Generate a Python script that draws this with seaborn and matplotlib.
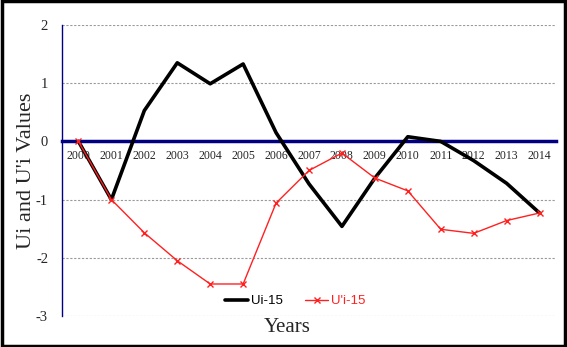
import numpy as np
import pandas as pd
import matplotlib
matplotlib.use("Agg")
import matplotlib.pyplot as plt
from matplotlib.patches import Rectangle
import seaborn as sns

years = ["2000", "2001", "2002", "2003", "2004", "2005", "2006", "2007",
         "2008", "2009", "2010", "2011", "2012", "2013", "2014"]
ui_15 = [0.0, -1.0, 0.53, 1.35, 0.99, 1.33, 0.15, -0.73, -1.46, -0.63,
         0.08, 0.0, -0.33, -0.72, -1.23]
uprime_15 = [0.0, -1.0, -1.57, -2.05, -2.45, -2.45, -1.06, -0.50, -0.20,
             -0.63, -0.85, -1.51, -1.58, -1.36, -1.23]
y_ticks = [-3, -2, -1, 0, 1, 2]

navy = "#000080"
red = "#ff2020"
serif = ["Liberation Serif", "DejaVu Serif"]
sans = ["Liberation Sans", "DejaVu Sans"]

sns.set_style("white")

df = pd.DataFrame({"pos": np.arange(len(years)), "Ui-15": ui_15, "U'i-15": uprime_15})

fig = plt.figure(figsize=(5.67, 3.47), dpi=100)
ax = fig.add_axes([62 / 567, 1 - 316 / 347, (556 - 62) / 567, (316 - 25) / 347])

sns.lineplot(data=df, x="pos", y="Ui-15", ax=ax, color="black", linewidth=2.6,
             label="Ui-15", zorder=3)
sns.lineplot(data=df, x="pos", y="U'i-15", ax=ax, color=red, linewidth=1.0,
             marker="x", markersize=5, markeredgewidth=1.0, markeredgecolor=red,
             markerfacecolor=red, label="U'i-15", zorder=4)

ax.set_xlim(-0.5, len(years) - 0.5)
ax.set_ylim(-3, 2)

# dashed horizontal gridlines (the zero line is the category axis itself)
for v in y_ticks:
    if v != 0:
        ax.axhline(v, color="#9a9a9a", linestyle=(0, (2, 1.5)), linewidth=0.8, zorder=1)

ax.set_yticks(y_ticks)
ax.set_yticklabels([str(v) for v in y_ticks], fontfamily=serif, fontsize=10.5)
ax.tick_params(axis="y", direction="out", length=4, width=1, color=navy, pad=6)

# category axis along y = 0 with tick marks between categories
ax.spines["bottom"].set_position(("data", 0))
ax.spines["bottom"].set_color(navy)
ax.spines["bottom"].set_linewidth(2.5)
ax.spines["bottom"].set_zorder(2)
ax.spines["left"].set_color(navy)
ax.spines["left"].set_linewidth(1.0)
ax.spines["top"].set_visible(False)
ax.spines["right"].set_visible(False)

ax.set_xticks(np.arange(-0.5, len(years), 1.0))
ax.set_xticklabels([])
ax.tick_params(axis="x", which="major", direction="out", length=3, width=2, color=navy)
ax.set_xticks(np.arange(len(years)), minor=True)
ax.set_xticklabels(years, minor=True, fontfamily=serif, fontsize=8.5)
ax.tick_params(axis="x", which="minor", length=0, pad=6)

ax.set_xlabel("")
ax.set_ylabel("")
fig.text(27 / 567, 1 - 171 / 347, "Ui and U'i Values", fontfamily=serif, fontsize=16,
         rotation=90, ha="center", va="center")
fig.text(287 / 567, 1 - 328 / 347, "Years", fontfamily=serif, fontsize=15,
         ha="center", va="center")

leg = ax.legend(loc="center", ncol=2, frameon=False, prop={"family": sans, "size": 9.5},
                handlelength=1.75, columnspacing=1.7, handletextpad=0.2)
leg.set_bbox_to_anchor((295 / 567, 1 - 301 / 347), transform=fig.transFigure)
for txt, col in zip(leg.get_texts(), ["black", red]):
    txt.set_color(col)

fig.patches.append(Rectangle((0.003, 0.004), 0.994, 0.992, transform=fig.transFigure,
                             fill=False, edgecolor="black", linewidth=2.5))

fig.savefig("out.png", dpi=100)
